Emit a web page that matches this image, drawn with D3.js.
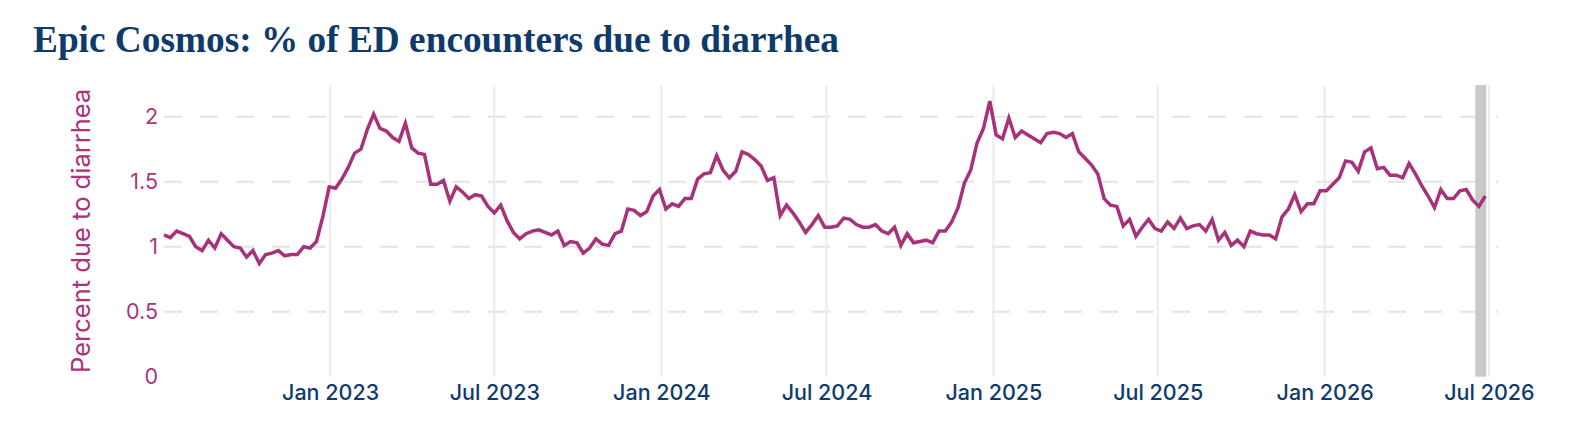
<!DOCTYPE html>
<html>
<head>
<meta charset="utf-8">
<script src="https://cdn.jsdelivr.net/npm/d3@7"></script>
<style>
  body { margin: 0; background: #fff; }
</style>
</head>
<body>
<div id="chart"></div>
<script>
// weekly series, first week ends 2022-07-02, one value per week
const startWeek = '2022-07-02';
const pctDiarrhea = [
  1.09, 1.07, 1.12, 1.10, 1.08, 1.00, 0.97, 1.05, 0.99, 1.10, 1.05, 1.00, 0.99, 0.92, 0.97, 0.87, 0.94, 0.95, 0.97, 0.93, 0.94,
  0.94, 1.00, 0.99, 1.04, 1.23, 1.46, 1.45, 1.52, 1.61, 1.72, 1.75, 1.90, 2.02, 1.91, 1.89, 1.84, 1.81, 1.95, 1.76, 1.72, 1.71,
  1.48, 1.48, 1.51, 1.35, 1.46, 1.42, 1.37, 1.40, 1.39, 1.31, 1.26, 1.32, 1.20, 1.11, 1.06, 1.10, 1.12, 1.13, 1.11, 1.09, 1.12,
  1.01, 1.04, 1.03, 0.95, 0.99, 1.06, 1.02, 1.01, 1.10, 1.12, 1.29, 1.28, 1.24, 1.27, 1.39, 1.44, 1.29, 1.33, 1.31, 1.37, 1.37,
  1.52, 1.56, 1.57, 1.70, 1.59, 1.53, 1.58, 1.73, 1.71, 1.67, 1.62, 1.51, 1.53, 1.24, 1.32, 1.26, 1.19, 1.11, 1.17, 1.24, 1.15,
  1.15, 1.16, 1.22, 1.21, 1.17, 1.15, 1.15, 1.17, 1.12, 1.10, 1.15, 1.01, 1.10, 1.03, 1.04, 1.05, 1.03, 1.12, 1.12, 1.19, 1.30,
  1.49, 1.59, 1.80, 1.91, 2.12, 1.86, 1.83, 1.99, 1.84, 1.89, 1.86, 1.83, 1.80, 1.87, 1.88, 1.87, 1.84, 1.87, 1.73, 1.68, 1.63,
  1.56, 1.37, 1.32, 1.31, 1.16, 1.21, 1.08, 1.15, 1.21, 1.14, 1.12, 1.19, 1.14, 1.22, 1.14, 1.16, 1.17, 1.12, 1.21, 1.05, 1.11,
  1.01, 1.05, 1.00, 1.12, 1.10, 1.09, 1.09, 1.06, 1.23, 1.29, 1.40, 1.27, 1.33, 1.33, 1.43, 1.43, 1.48, 1.53, 1.66, 1.65, 1.58,
  1.73, 1.76, 1.60, 1.61, 1.55, 1.55, 1.53, 1.64, 1.56, 1.47, 1.39, 1.30, 1.44, 1.37, 1.37, 1.43, 1.44, 1.36, 1.31, 1.39
];

// axis ticks and ranges
const xTickDates = ['2023-01-01', '2023-07-01', '2024-01-01', '2024-07-01', '2025-01-01', '2025-07-01', '2026-01-01', '2026-07-01'];
const yTickValues = [0, 0.5, 1, 1.5, 2];
const xDomain = ['2022-07-02', '2026-07-11'];
const yDomain = [0, 2.244];

// grey band marking the most recent, still incomplete weeks
const shadedRange = ['2026-06-16', '2026-06-28'];

const width = 1580;
const height = 448;
const plot = {"left": 164, "right": 1498, "top": 85, "bottom": 376.67};

const navy = '#0e3a6c';
const magenta = '#ad3479';
const lineColor = '#a8327a';
const tickFont = 'Inter, "Noto Sans", sans-serif';

const parseDate = d3.timeParse('%Y-%m-%d');
const firstWeek = parseDate(startWeek);
const series = pctDiarrhea.map((v, i) => ({date: d3.timeDay.offset(firstWeek, 7 * i), value: v}));

const svg = d3.select('#chart')
    .append('svg')
    .attr('width', width)
    .attr('height', height);

svg.append('text')
    .text('Epic Cosmos: % of ED encounters due to diarrhea')
    .attr('x', 33)
    .attr('y', 52)
    .attr('fill', navy)
    .style('font-family', '"Liberation Serif", serif')
    .style('font-weight', 'bold')
    .style('font-size', '37.3px');

const xScale = d3.scaleTime()
    .domain(xDomain.map(parseDate))
    .range([plot.left, plot.right]);

const yScale = d3.scaleLinear()
    .domain(yDomain)
    .range([plot.bottom, plot.top]);

// horizontal dashed grid (none on the zero line)
svg.append('g')
    .selectAll('line')
    .data(yTickValues.filter(d => d > 0))
    .enter()
    .append('line')
    .attr('x1', plot.left)
    .attr('x2', plot.right)
    .attr('y1', d => yScale(d))
    .attr('y2', d => yScale(d))
    .attr('stroke', '#e4e4e4')
    .attr('stroke-width', 2)
    .attr('stroke-dasharray', '18,18');

// vertical solid grid at each tick date
svg.append('g')
    .selectAll('line')
    .data(xTickDates.map(parseDate))
    .enter()
    .append('line')
    .attr('x1', d => xScale(d))
    .attr('x2', d => xScale(d))
    .attr('y1', plot.top)
    .attr('y2', plot.bottom)
    .attr('stroke', '#ebebeb')
    .attr('stroke-width', 2);

svg.append('rect')
    .attr('x', xScale(parseDate(shadedRange[0])))
    .attr('y', plot.top)
    .attr('width', xScale(parseDate(shadedRange[1])) - xScale(parseDate(shadedRange[0])))
    .attr('height', plot.bottom - plot.top)
    .attr('fill', '#c9c9c9');

const line = d3.line()
    .x(d => xScale(d.date))
    .y(d => yScale(d.value));

svg.append('path')
    .datum(series)
    .attr('d', line)
    .attr('fill', 'none')
    .attr('stroke', lineColor)
    .attr('stroke-width', 3.5);

const xAxis = d3.axisBottom(xScale)
    .tickValues(xTickDates.map(parseDate))
    .tickFormat(d3.timeFormat('%b %Y'))
    .tickSize(0)
    .tickPadding(0);

const gx = svg.append('g')
    .attr('transform', `translate(0, ${plot.bottom})`)
    .call(xAxis);
gx.select('.domain').remove();
gx.selectAll('text')
    .attr('dy', null)
    .attr('y', 23)
    .attr('fill', navy)
    .style('font-family', tickFont)
    .style('font-weight', 500)
    .style('font-size', '21.5px');

const yAxis = d3.axisLeft(yScale)
    .tickValues(yTickValues)
    .tickFormat(d3.format('~g'))
    .tickSize(0)
    .tickPadding(6);

const gy = svg.append('g')
    .attr('transform', `translate(${plot.left}, 0)`)
    .call(yAxis);
gy.select('.domain').remove();
gy.selectAll('text')
    .attr('fill', magenta)
    .style('font-family', tickFont)
    .style('font-size', '21.5px');

svg.append('text')
    .text('Percent due to diarrhea')
    .attr('transform', `translate(90, ${(plot.top + plot.bottom) / 2}) rotate(-90)`)
    .attr('text-anchor', 'middle')
    .attr('fill', magenta)
    .style('font-family', tickFont)
    .style('font-size', '25.5px');
</script>
</body>
</html>
